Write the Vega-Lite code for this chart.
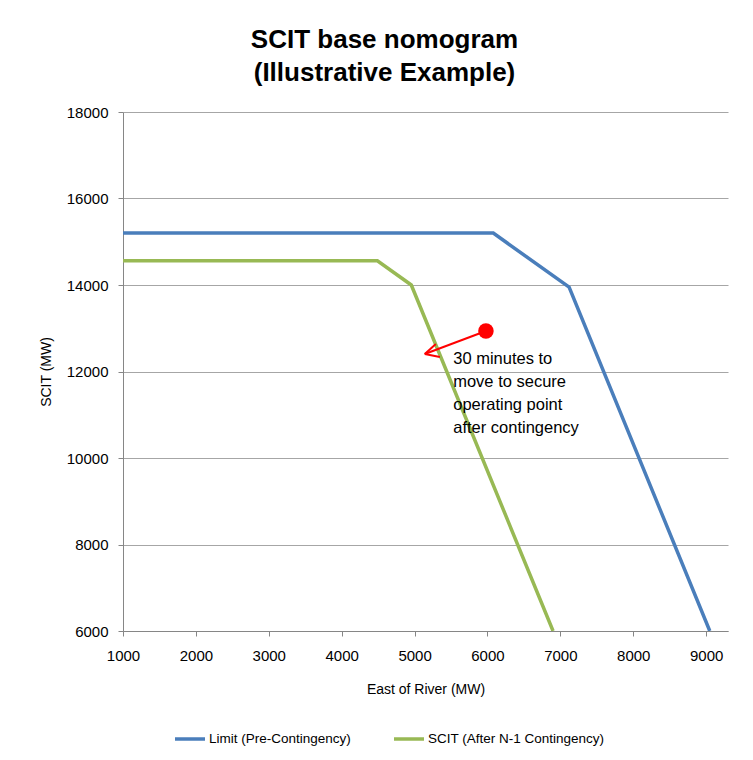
{
  "$schema": "https://vega.github.io/schema/vega-lite/v6.json",
  "width": 605,
  "height": 519,
  "autosize": {"type": "none"},
  "padding": {"left": 123, "top": 112, "right": 25, "bottom": 129},
  "background": "white",
  "title": {
    "text": ["SCIT base nomogram", "(Illustrative Example)"],
    "font": "Liberation Sans",
    "fontSize": 26,
    "fontWeight": "bold",
    "color": "black",
    "anchor": "middle",
    "frame": "group",
    "dx": -41,
    "offset": 19,
    "lineHeight": 33
  },
  "config": {
    "view": {"stroke": null},
    "font": "Liberation Sans",
    "axis": {
      "labelFont": "Liberation Sans",
      "titleFont": "Liberation Sans",
      "labelFontSize": 15,
      "titleFontSize": 14,
      "titleFontWeight": "normal",
      "labelColor": "black",
      "titleColor": "black",
      "domainColor": "#868686",
      "tickColor": "#868686",
      "gridColor": "#a6a6a6",
      "tickSize": 5
    }
  },
  "datasets": {
    "lines": [
      {"series": "Limit (Pre-Contingency)", "order": 1, "x": 1000, "y": 15200},
      {"series": "Limit (Pre-Contingency)", "order": 2, "x": 6080, "y": 15200},
      {"series": "Limit (Pre-Contingency)", "order": 3, "x": 7120, "y": 13950},
      {"series": "Limit (Pre-Contingency)", "order": 4, "x": 9050, "y": 6000},
      {"series": "SCIT (After N-1 Contingency)", "order": 1, "x": 1000, "y": 14560},
      {"series": "SCIT (After N-1 Contingency)", "order": 2, "x": 4490, "y": 14560},
      {"series": "SCIT (After N-1 Contingency)", "order": 3, "x": 4955, "y": 14000},
      {"series": "SCIT (After N-1 Contingency)", "order": 4, "x": 6900, "y": 6000}
    ],
    "arrow": [
      {"x": 5979, "y": 12937, "x2": 5140, "y2": 12405},
      {"x": 5292, "y": 12636, "x2": 5140, "y2": 12405},
      {"x": 5347, "y": 12336, "x2": 5140, "y2": 12405}
    ],
    "dot": [{"x": 5979, "y": 12937}],
    "note": [{"x": 5530, "y": 12174, "label": "30 minutes to\nmove to secure\noperating point\nafter contingency"}]
  },
  "layer": [
    {
      "data": {"name": "lines"},
      "mark": {"type": "line", "strokeWidth": 3.5, "clip": true},
      "encoding": {
        "x": {
          "field": "x", "type": "quantitative",
          "scale": {"domain": [1000, 9300], "nice": false, "zero": false},
          "axis": {
            "title": "East of River (MW)",
            "values": [1000, 2000, 3000, 4000, 5000, 6000, 7000, 8000, 9000],
            "format": "d",
            "grid": false,
            "labelPadding": 12,
            "titlePadding": 19,
            "labelFlush": false
          }
        },
        "y": {
          "field": "y", "type": "quantitative",
          "scale": {"domain": [6000, 18000], "nice": false, "zero": false},
          "axis": {
            "title": "SCIT (MW)",
            "values": [6000, 8000, 10000, 12000, 14000, 16000, 18000],
            "format": "d",
            "grid": true,
            "labelPadding": 10,
            "titlePadding": 13,
            "labelFlush": false
          }
        },
        "color": {
          "field": "series", "type": "nominal",
          "scale": {
            "domain": ["Limit (Pre-Contingency)", "SCIT (After N-1 Contingency)"],
            "range": ["#4a7ebb", "#98b954"]
          },
          "legend": {
            "title": null,
            "orient": "none",
            "direction": "horizontal",
            "legendX": 50,
            "legendY": 610,
            "symbolType": "stroke",
            "symbolSize": 900,
            "symbolStrokeWidth": 3.5,
            "labelFont": "Liberation Sans",
            "labelFontSize": 13.5,
            "labelColor": "black",
            "labelOffset": 2,
            "columnPadding": 36,
            "labelLimit": 300
          }
        },
        "order": {"field": "order", "type": "quantitative"}
      }
    },
    {
      "data": {"name": "arrow"},
      "mark": {"type": "rule", "color": "#ff0000", "strokeWidth": 2},
      "encoding": {
        "x": {"field": "x", "type": "quantitative"},
        "y": {"field": "y", "type": "quantitative"},
        "x2": {"field": "x2"},
        "y2": {"field": "y2"}
      }
    },
    {
      "data": {"name": "dot"},
      "mark": {"type": "point", "filled": true, "shape": "circle", "size": 240, "color": "#ff0000", "opacity": 1},
      "encoding": {
        "x": {"field": "x", "type": "quantitative"},
        "y": {"field": "y", "type": "quantitative"}
      }
    },
    {
      "data": {"name": "note"},
      "mark": {"type": "text", "align": "left", "baseline": "alphabetic", "lineBreak": "\n", "lineHeight": 23, "fontSize": 16.5, "font": "Liberation Sans", "color": "black"},
      "encoding": {
        "x": {"field": "x", "type": "quantitative"},
        "y": {"field": "y", "type": "quantitative"},
        "text": {"field": "label"}
      }
    }
  ]
}
